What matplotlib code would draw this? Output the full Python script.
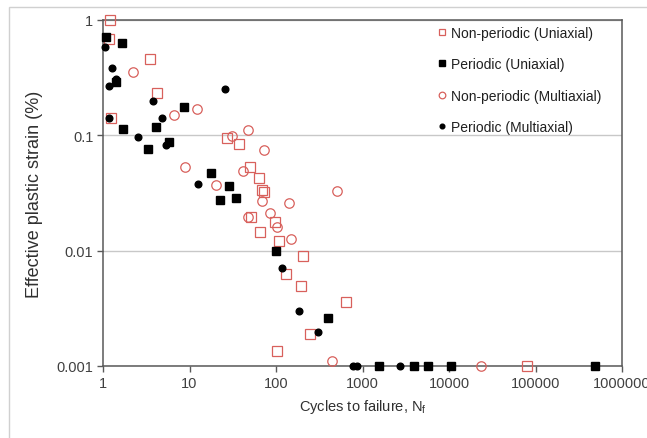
import numpy as np
import matplotlib
matplotlib.use("Agg")
from matplotlib import pyplot as plt
from matplotlib import ticker
from matplotlib.patches import Rectangle

plt.rcParams['font.family'] = ['Liberation Sans', 'DejaVu Sans']

# Non-periodic (Uniaxial) - offene Quadrate
np_uni_n = [1.2, 1.17, 3.5, 4.2, 1.24, 27, 37, 50, 64, 69, 73, 51, 97, 65, 108,
            205, 131, 195, 645, 247, 103, 80000]
np_uni_eps = [1.0, 0.68, 0.46, 0.233, 0.141, 0.095, 0.084, 0.053, 0.0426, 0.0336, 0.0322,
              0.0196, 0.0177, 0.0145, 0.0121, 0.009, 0.0063, 0.0049, 0.0036, 0.0019,
              0.00135, 0.001]

# Periodic (Uniaxial) - volle Quadrate
p_uni_n = [1.08, 1.66, 1.41, 8.6, 1.7, 4.1, 3.3, 5.8, 17.7, 28.6, 34.5, 22.5, 100,
           400, 1550, 3950, 5700, 10500, 490000]
p_uni_eps = [0.71, 0.63, 0.29, 0.176, 0.113, 0.118, 0.076, 0.0875, 0.047, 0.0363, 0.0286,
             0.0275, 0.0099, 0.0026, 0.001, 0.001, 0.001, 0.001, 0.001]

# Non-periodic (Multiaxial) - offene Kreise
np_multi_n = [2.2, 6.6, 12.2, 8.9, 20, 31, 47.5, 72.6, 41.5, 507, 69, 141, 85, 47.5,
              103, 149, 444, 23400]
np_multi_eps = [0.354, 0.15, 0.169, 0.053, 0.037, 0.099, 0.111, 0.075, 0.049, 0.033,
                0.027, 0.026, 0.0212, 0.0196, 0.016, 0.0126, 0.0011, 0.001]

# Periodic (Multiaxial) - volle Kreise
p_multi_n = [1.05, 1.27, 1.17, 1.41, 3.8, 1.17, 4.8, 2.54, 5.35, 12.5, 25.7, 117, 184,
             306, 776, 864, 2715]
p_multi_eps = [0.58, 0.383, 0.268, 0.308, 0.198, 0.141, 0.141, 0.0966, 0.0824, 0.0378,
               0.252, 0.0071, 0.003, 0.00197, 0.001, 0.001, 0.001]

RED = '#d8605c'
GRAU = '#595959'

fig = plt.figure(figsize=(6.47, 4.39), dpi=100)
ax = fig.add_axes([103/647, 1 - 367/439, (622-103)/647, (367-21)/439])

# Rahmen des Diagrammbereichs (nur links und oben sichtbar)
fig.patches.append(Rectangle((9/647, -0.2), 2, 1.2 - 8/439, transform=fig.transFigure,
                             fill=False, edgecolor='#d0d0d0', linewidth=1.0))

ax.plot(np_uni_n, np_uni_eps, ls='none', marker='s', ms=6.8, mfc='none', mec=RED,
        mew=0.9, clip_on=False, zorder=3, label='Non-periodic (Uniaxial)')
ax.plot(p_uni_n, p_uni_eps, ls='none', marker='s', ms=6.2, mfc='black', mec='black',
        clip_on=False, zorder=4, label='Periodic (Uniaxial)')
ax.plot(np_multi_n, np_multi_eps, ls='none', marker='o', ms=6.8, mfc='none', mec=RED,
        mew=0.9, clip_on=False, zorder=3, label='Non-periodic (Multiaxial)')
ax.plot(p_multi_n, p_multi_eps, ls='none', marker='o', ms=4.8, mfc='black', mec='black',
        clip_on=False, zorder=4, label='Periodic (Multiaxial)')

ax.set_xscale('log')
ax.set_yscale('log')
ax.set_xlim(1, 1e6)
ax.set_ylim(0.001, 1)

ax.xaxis.set_major_locator(ticker.LogLocator(base=10, numticks=10))
ax.yaxis.set_major_locator(ticker.LogLocator(base=10, numticks=10))
ax.xaxis.set_minor_locator(ticker.NullLocator())
ax.yaxis.set_minor_locator(ticker.NullLocator())
ax.xaxis.set_major_formatter(ticker.FuncFormatter(lambda v, p: '%d' % round(v)))
ax.yaxis.set_major_formatter(ticker.FuncFormatter(lambda v, p: ('%g' % v)))

ax.yaxis.grid(True, color='#c8c8c8', linewidth=1.0)
ax.set_axisbelow(True)
for s in ax.spines.values():
    s.set_color(GRAU)
    s.set_linewidth(1.1)
ax.tick_params(axis='both', direction='out', length=4, width=1, color=GRAU,
               labelsize=10.5, labelcolor='#404040', pad=3)

ax.set_ylabel('Effective plastic strain (%)', fontsize=13, color='#303030', labelpad=10)
ax.set_xlabel(r'Cycles to failure, N$\mathregular{_f}$', fontsize=10.5,
              color='#303030', labelpad=5)

leg = ax.legend(loc='upper left', bbox_to_anchor=(430/647, 1 - 20/439),
                bbox_transform=fig.transFigure, frameon=False, fontsize=10,
                handlelength=0.7, handletextpad=0.3, labelspacing=1.25,
                markerscale=0.7, borderpad=0)
for t in leg.get_texts():
    t.set_color('#202020')

fig.savefig('out.png', dpi=100, facecolor='white')
